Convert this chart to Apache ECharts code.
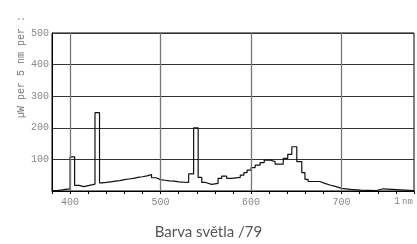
<!DOCTYPE html>
<html>
<head>
<meta charset="utf-8">
<script src="https://cdn.jsdelivr.net/npm/echarts@6/dist/echarts.min.js"></script>
<style>
  html, body { margin: 0; padding: 0; background: #fff; }
  #chart { width: 417px; height: 244px; }
</style>
</head>
<body>
<div id="chart"></div>
<script>
// step edges (nm) and power in each step (µW per 5 nm)
const wavelengths = [380, 385, 390, 395, 400, 405, 410, 415, 420, 425, 427.5, 432.5, 435, 440, 445, 450, 455, 460, 465, 470,
  475, 480, 485, 490, 495, 500, 505, 510, 515, 520, 525, 531, 536.5, 541.5, 545.5, 549.5, 556.5, 563.5, 567.5, 573,
  578.5, 588, 592, 595.5, 600, 604.5, 610, 614.5, 621, 626.5, 635.5, 640.5, 645, 650.5, 656, 659.5, 663, 676, 681.5, 687,
  694, 700, 710, 721, 738.5, 746, 780]
const power = [1, 3, 5, 7, 108, 18, 14, 17, 20, 22, 248, 26, 27, 29, 31, 33, 36, 38, 40, 43,
  45, 48, 52, 42, 36, 34, 32, 31, 29, 28, 27, 54, 200, 43, 27, 21, 24, 40, 47, 40,
  43, 50, 58, 66, 74, 82, 90, 98, 93, 85, 103, 116, 140, 93, 58, 37, 30, 24, 19, 14,
  8.5, 5, 3, 1.5, 7, 1, 1]
const gridLinesX = [400, 500, 600, 700]
const xLabels = [400, 500, 600, 700]
const yLabels = [100, 200, 300, 400, 500]

const chart = echarts.init(document.getElementById('chart'))

const option = {
  animation: false,
  title: {
    text: 'Barva světla /79',
    left: 'center',
    top: 220,
    textStyle: { fontFamily: 'Lato', fontSize: 15, fontWeight: 'normal', color: '#555' }
  },
  grid: {
    left: 52,
    top: 33,
    right: 1,
    bottom: 53,
    show: true,
    borderColor: '#000',
    borderWidth: 1
  },
  xAxis: {
    type: 'value',
    min: 380,
    max: 780,
    interval: 20,
    axisLine: { show: true, lineStyle: { color: '#000', width: 1 } },
    axisTick: { show: true, length: 3, lineStyle: { color: '#000' } },
    splitLine: { show: false },
    axisLabel: {
      margin: 6,
      color: '#888',
      fontFamily: 'Liberation Mono',
      fontSize: 10,
      formatter: v => (xLabels.includes(v) ? String(v) : '')
    }
  },
  yAxis: {
    type: 'value',
    min: 0,
    max: 500,
    interval: 100,
    axisLine: { show: true, lineStyle: { color: '#000', width: 1 } },
    axisTick: { show: false },
    splitLine: { show: true, lineStyle: { color: '#333', width: 1 } },
    axisLabel: {
      margin: 3,
      color: '#888',
      fontFamily: 'Liberation Mono',
      fontSize: 10,
      formatter: v => (yLabels.includes(v) ? String(v) : '')
    }
  },
  graphic: [
    {
      type: 'text',
      x: 21,
      y: 118,
      rotation: Math.PI / 2,
      style: {
        text: 'µW per 5 nm per :',
        fill: '#777',
        font: '10px "Liberation Mono"',
        textAlign: 'left',
        textVerticalAlign: 'middle'
      }
    },
    {
      type: 'text',
      x: 394,
      y: 196,
      style: {
        text: '1',
        fill: '#888',
        font: '10px "Liberation Mono"',
        textAlign: 'left',
        textVerticalAlign: 'top'
      }
    },
    {
      type: 'text',
      x: 402,
      y: 197,
      style: {
        text: 'nm',
        fill: '#888',
        font: '9px "Liberation Mono"',
        textAlign: 'left',
        textVerticalAlign: 'top'
      }
    }
  ],
  series: [
    {
      // vertical gridlines every 100 nm
      type: 'line',
      data: [],
      z: 1,
      markLine: {
        silent: true,
        symbol: ['none', 'none'],
        label: { show: false },
        lineStyle: { color: '#777', width: 1.3, type: 'solid' },
        data: gridLinesX.map(v => ({ xAxis: v }))
      }
    },
    {
      name: 'spectrum',
      type: 'line',
      step: 'end',
      z: 3,
      symbol: 'none',
      lineStyle: { color: '#111', width: 1.2 },
      data: wavelengths.map((w, i) => [w, power[i]])
    }
  ]
}

chart.setOption(option)
</script>
</body>
</html>
